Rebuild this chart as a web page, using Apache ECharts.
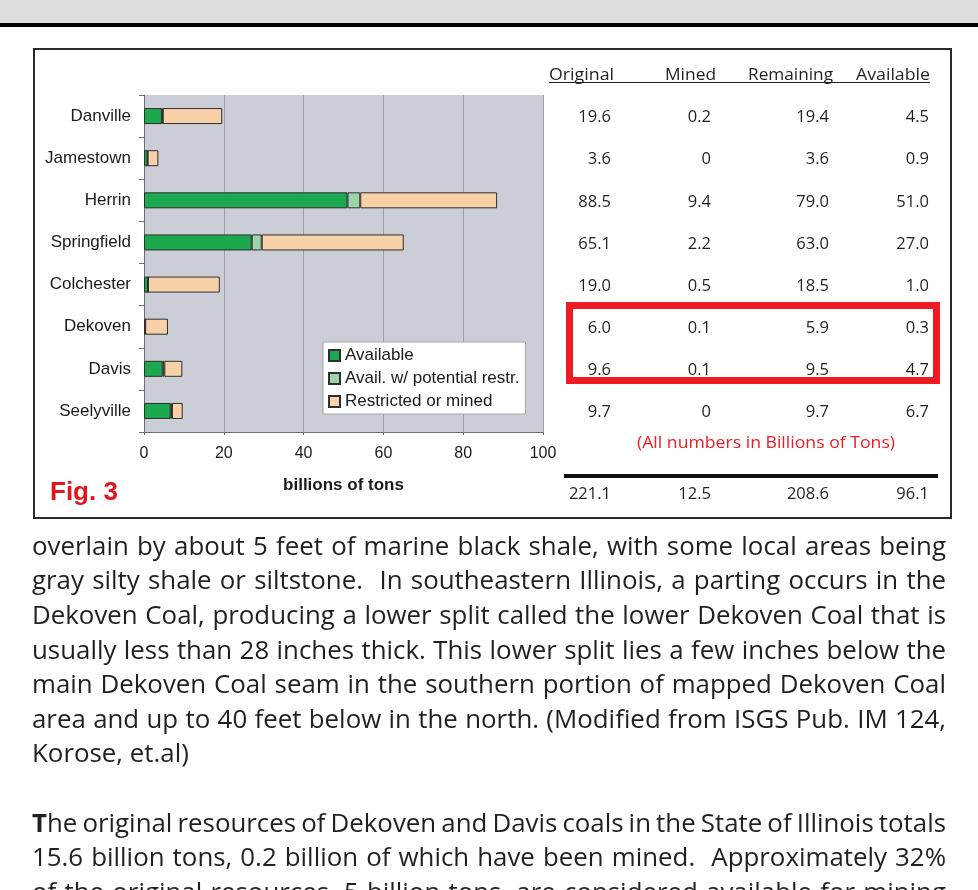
<!DOCTYPE html>
<html lang="en">
<head>
<meta charset="UTF-8">
<title>Fig. 3 - Illinois coal resources</title>
<style type="text/css">
  body {margin: 0px; background-color: #ffffff;}
  #main {width: 978px; height: 890px;}
</style>
<script src="https://cdn.jsdelivr.net/npm/echarts@6/dist/echarts.min.js"></script>
</head>
<body>
<div id="main"></div>
<script type="text/javascript">
// ---- data ----
var categories = ['Danville', 'Jamestown', 'Herrin', 'Springfield', 'Colchester', 'Dekoven', 'Davis', 'Seelyville'];
var available = [4.5, 0.9, 51.0, 27.0, 1.0, 0.3, 4.7, 6.7];
var potentialRestr = [0.2, 0, 3.2, 2.5, 0, 0, 0.4, 0.3];
var restrictedMined = [14.9, 2.7, 34.3, 35.6, 18.0, 5.7, 4.5, 2.7];
var seriesNames = ['Available', 'Avail. w/ potential restr.', 'Restricted or mined'];

var tableHeaders = ['Original', 'Mined', 'Remaining', 'Available'];
var colOriginal = ['19.6', '3.6', '88.5', '65.1', '19.0', '6.0', '9.6', '9.7'];
var colMined = ['0.2', '0', '9.4', '2.2', '0.5', '0.1', '0.1', '0'];
var colRemaining = ['19.4', '3.6', '79.0', '63.0', '18.5', '5.9', '9.5', '9.7'];
var colAvailable = ['4.5', '0.9', '51.0', '27.0', '1.0', '0.3', '4.7', '6.7'];
var totals = ['221.1', '12.5', '208.6', '96.1'];
var unitsNote = '(All numbers in Billions of Tons)';

var bodyLines = [
  'overlain by about 5 feet of marine black shale, with some local areas being',
  'gray silty shale or siltstone.  In southeastern Illinois, a parting occurs in the',
  'Dekoven Coal, producing a lower split called the lower Dekoven Coal that is',
  'usually less than 28 inches thick. This lower split lies a few inches below the',
  'main Dekoven Coal seam in the southern portion of mapped Dekoven Coal',
  'area and up to 40 feet below in the north. (Modified from ISGS Pub. IM 124,',
  'Korose, et.al)',
  '',
  'The original resources of Dekoven and Davis coals in the State of Illinois totals',
  '15.6 billion tons, 0.2 billion of which have been mined.  Approximately 32%',
  'of the original resources, 5 billion tons, are considered available for mining'
];
var raggedLines = [6];
var boldInitialLine = 8;

// ---- styles ----
var ARIAL = 'Arial, "Liberation Sans", sans-serif';
var MYRIAD = '"Open Sans", "Noto Sans", sans-serif';
var INK = '#231f20';
var RED = '#ed1c24';

var measureCtx = document.createElement('canvas').getContext('2d');
function textWidth(str, font) {
  measureCtx.font = font;
  return measureCtx.measureText(str).width;
}

function txt(str, x, y, o) {
  o = o || {};
  var font = (o.weight || 'normal') + ' ' + (o.size || 16) + 'px ' + (o.family || MYRIAD);
  var sx = o.scale || 1;
  if (o.width) sx = o.width / textWidth(str, font);
  var align = o.align || 'left';
  return {
    type: 'text', x: x, y: y, scaleX: sx, silent: true,
    style: {
      text: str, font: font, fill: o.color || INK,
      textAlign: align, textVerticalAlign: 'middle',
      align: align, verticalAlign: 'middle'
    }
  };
}

function barSeries(name, data, color) {
  return {
    name: name, type: 'bar', stack: 'total', data: data, barWidth: 16,
    itemStyle: {color: color, borderColor: '#2e2e2e', borderWidth: 1}
  };
}

var option = {
  animation: false,
  backgroundColor: '#ffffff',
  grid: {
    left: 144, top: 95, width: 399, height: 337,
    show: true, backgroundColor: '#cbced6', borderWidth: 0,
    containLabel: false, outerBoundsMode: 'none'
  },
  legend: {
    orient: 'vertical', left: 323, top: 342,
    padding: [5, 6, 4, 5], itemGap: 6, itemWidth: 11, itemHeight: 11,
    backgroundColor: '#ffffff', borderColor: '#a4a4a4', borderWidth: 1, borderRadius: 0,
    icon: 'rect',
    textStyle: {fontSize: 17, color: '#1a1a1a', fontFamily: ARIAL},
    data: seriesNames
  },
  xAxis: {
    type: 'value', min: 0, max: 100, interval: 20,
    name: 'billions of tons', nameLocation: 'middle', nameGap: 45,
    nameTextStyle: {fontSize: 17, fontWeight: 'bold', color: '#1a1a1a', fontFamily: ARIAL},
    axisLine: {show: true, lineStyle: {color: '#6e6e6e', width: 1}},
    axisTick: {show: true, length: 3, lineStyle: {color: '#6e6e6e'}},
    axisLabel: {fontSize: 16, color: '#1a1a1a', fontFamily: ARIAL, margin: 14},
    splitLine: {show: true, lineStyle: {color: '#9a9da5', width: 1}}
  },
  yAxis: {
    type: 'category', data: categories, inverse: true,
    axisLine: {show: true, onZero: false, lineStyle: {color: '#6e6e6e', width: 1}},
    axisTick: {show: true, length: 5, alignWithLabel: false, lineStyle: {color: '#6e6e6e'}},
    axisLabel: {fontSize: 17, color: '#1a1a1a', fontFamily: ARIAL, margin: 13},
    splitLine: {show: false}
  },
  series: [
    barSeries(seriesNames[0], available, '#1ba84f'),
    barSeries(seriesNames[1], potentialRestr, '#9fd4ab'),
    barSeries(seriesNames[2], restrictedMined, '#f8d1a9')
  ]
};

var myChart = echarts.init(document.getElementById('main'));
myChart.setOption(option);

function buildGraphics() {
  var g = [];
  // page header band
  g.push({type: 'rect', shape: {x: 0, y: 0, width: 978, height: 23}, style: {fill: '#dedede'}, silent: true});
  g.push({type: 'rect', shape: {x: 0, y: 23, width: 978, height: 4}, style: {fill: '#000000'}, silent: true});
  // figure frame
  g.push({type: 'rect', shape: {x: 34, y: 49, width: 917, height: 469}, style: {fill: 'none', stroke: '#2a2a2a', lineWidth: 2}, silent: true});

  g.push(txt('Fig. 3', 50, 493, {size: 26, weight: 'bold', family: ARIAL, color: '#e3151c'}));

  // table headers
  var headLeft = [549, 665, 748, 856];
  var headWidth = [65, 51, 85, 74];
  tableHeaders.forEach(function (h, i) {
    g.push(txt(h, headLeft[i], 75, {size: 17, width: headWidth[i]}));
  });
  g.push({type: 'line', shape: {x1: 549, y1: 82.5, x2: 930, y2: 82.5}, style: {stroke: INK, lineWidth: 1}, silent: true});

  // table rows aligned with the chart categories
  var colRight = [611, 711, 829, 929];
  var cols = [colOriginal, colMined, colRemaining, colAvailable];
  categories.forEach(function (c, r) {
    var y = myChart.convertToPixel({yAxisIndex: 0}, c) + 1.5;
    cols.forEach(function (col, k) {
      g.push(txt(col[r], colRight[k], y, {size: 16.5, align: 'right'}));
    });
  });

  // highlight box
  g.push({type: 'rect', shape: {x: 569.5, y: 305.5, width: 367, height: 75}, style: {fill: 'none', stroke: RED, lineWidth: 7}, silent: true});

  g.push(txt(unitsNote, 637, 443.5, {size: 16.5, width: 258, color: RED}));

  // totals
  g.push({type: 'rect', shape: {x: 564, y: 474, width: 374, height: 4}, style: {fill: '#111111'}, silent: true});
  totals.forEach(function (t, k) {
    g.push(txt(t, colRight[k], 494, {size: 16.5, align: 'right'}));
  });

  // body text, justified word by word (a double space counts as two gaps)
  var size = 25.5;
  var font = 'normal ' + size + 'px ' + MYRIAD;
  var boldFont = 'bold ' + size + 'px ' + MYRIAD;
  var glyphScale = 285 / textWidth('overlain by about 5 feet', font);
  var left = 32, full = 914, step = 34.6;
  bodyLines.forEach(function (line, i) {
    if (!line) return;
    var y = 556.5 + i * step - 9;
    var words = line.split(/ +/);
    var gapUnits = (line.match(/ +/g) || []).map(function (sp) { return sp.length; });
    var totalUnits = gapUnits.reduce(function (a, b) { return a + b; }, 0);
    var widths = words.map(function (w, j) {
      if (i === boldInitialLine && j === 0) {
        return textWidth(w.charAt(0), boldFont) + textWidth(w.slice(1), font);
      }
      return textWidth(w, font);
    });
    var sum = widths.reduce(function (a, b) { return a + b; }, 0);
    var s = glyphScale;
    var gap;
    if (raggedLines.indexOf(i) >= 0) {
      gap = textWidth(' ', font) * s;
    } else {
      gap = (full - sum * s) / totalUnits;
      if (gap < 3.5) {
        s = full / textWidth(line, font);
        gap = (full - sum * s) / totalUnits;
      }
    }
    var x = left;
    words.forEach(function (w, j) {
      if (i === boldInitialLine && j === 0) {
        var tW = textWidth(w.charAt(0), boldFont);
        g.push(txt(w.charAt(0), x, y, {size: size, weight: 'bold', scale: s}));
        g.push(txt(w.slice(1), x + tW * s, y, {size: size, scale: s}));
      } else {
        g.push(txt(w, x, y, {size: size, scale: s}));
      }
      x += widths[j] * s + gap * (gapUnits[j] || 0);
    });
  });
  return g;
}

myChart.setOption({graphic: buildGraphics()});
</script>
</body>
</html>
